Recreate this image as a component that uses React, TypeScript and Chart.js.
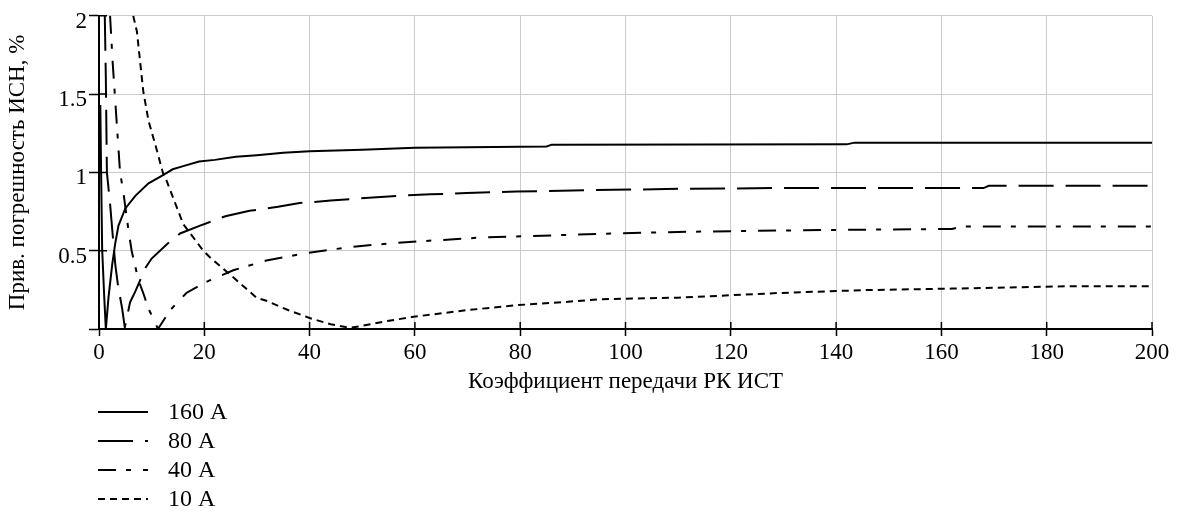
import React, { useEffect, useRef } from "react";
import { Chart, registerables } from "chart.js";

Chart.register(...registerables);

const xTickValues = [0, 20, 40, 60, 80, 100, 120, 140, 160, 180, 200];
const yTickValues = [0, 0.5, 1, 1.5, 2];
const seriesLabels = ["160 A", "80 A", "40 A", "10 A"];
const xAxisTitle = "Коэффициент передачи РК ИСТ";
const yAxisTitle = "Прив. погрешность ИСН, %";

const x160 = [0.25, 0.4, 0.6, 1.0, 1.3, 1.8, 2.5, 3.1, 3.7, 5, 6.9, 9.4, 12, 14, 16, 19, 22, 26, 30, 35, 40, 50, 60, 70, 80, 85, 86, 142, 143.5, 200];
const y160 = [1.43, 1.0, 0.51, 0.2, 0.0, 0.2, 0.41, 0.55, 0.66, 0.77, 0.85, 0.93, 0.98, 1.02, 1.04, 1.07, 1.08, 1.1, 1.11, 1.125, 1.135, 1.145, 1.157, 1.16, 1.164, 1.165, 1.177, 1.179, 1.19, 1.19];

const x80 = [1.1, 1.3, 1.5, 2.1, 2.6, 3.1, 3.6, 4.4, 4.9, 5.9, 6.9, 8.8, 10, 13.2, 15.4, 19.2, 24, 28.6, 34, 38.1, 44, 49.5, 57.1, 63, 69.8, 79.3, 94.4, 110, 129, 168, 169, 200];
const y80 = [2.0, 1.6, 1.0, 0.8, 0.6, 0.41, 0.28, 0.13, 0.01, 0.17, 0.24, 0.39, 0.45, 0.55, 0.61, 0.66, 0.72, 0.755, 0.78, 0.804, 0.82, 0.834, 0.851, 0.86, 0.868, 0.878, 0.887, 0.895, 0.9, 0.9, 0.914, 0.914];

const x40 = [2.1, 2.6, 3.2, 4.0, 4.6, 5.6, 6.2, 7.5, 8.4, 9.4, 10.4, 11.2, 13.5, 16.6, 19.2, 21, 25.5, 31.8, 39.4, 47.6, 55.8, 63.4, 73.6, 82.4, 94.4, 110, 129, 162, 164, 200];
const y40 = [2.0, 1.7, 1.4, 1.0, 0.88, 0.63, 0.5, 0.31, 0.23, 0.13, 0.06, 0.0, 0.12, 0.23, 0.28, 0.31, 0.375, 0.438, 0.485, 0.523, 0.548, 0.565, 0.586, 0.594, 0.607, 0.62, 0.629, 0.639, 0.654, 0.654];

const x10 = [6.5, 7.2, 8.4, 9.4, 11, 12.2, 12.8, 16, 19.8, 21, 25.5, 29.9, 31.8, 36, 40, 44, 47.6, 50, 53.9, 59.7, 69.8, 79.3, 88.7, 95, 110, 129.2, 145, 162, 183.6, 200];
const y10 = [2.0, 1.9, 1.52, 1.33, 1.14, 0.99, 0.95, 0.67, 0.5, 0.46, 0.33, 0.2, 0.18, 0.12, 0.07, 0.03, 0.008, 0.02, 0.046, 0.078, 0.12, 0.152, 0.173, 0.19, 0.2, 0.23, 0.248, 0.258, 0.273, 0.273];

const seriesX = [x160, x80, x40, x10];
const seriesY = [y160, y80, y40, y10];
const seriesDash = [[], [35, 12], [18, 10, 5, 12], [7, 5]];

const FONT_FAMILY = '"Times New Roman", "Liberation Serif", serif';

const innerTicks = {
  id: "innerTicks",
  afterDatasetsDraw(chart: any) {
    const { ctx, chartArea, scales } = chart;
    ctx.save();
    ctx.strokeStyle = "#000";
    ctx.lineWidth = 1.5;
    ctx.setLineDash([]);
    ctx.beginPath();
    xTickValues.forEach((v) => {
      const px = scales.x.getPixelForValue(v);
      ctx.moveTo(px, chartArea.bottom);
      ctx.lineTo(px, chartArea.bottom - 7);
    });
    yTickValues.forEach((v) => {
      const py = scales.y.getPixelForValue(v);
      ctx.moveTo(chartArea.left, py);
      ctx.lineTo(chartArea.left + 8, py);
    });
    ctx.stroke();
    ctx.restore();
  },
};

const lineLegend = {
  id: "lineLegend",
  afterDraw(chart: any) {
    const { ctx } = chart;
    ctx.save();
    chart.data.datasets.forEach((ds: any, i: number) => {
      const cy = 412 + i * 29;
      ctx.strokeStyle = "#000";
      ctx.lineWidth = 2;
      ctx.setLineDash(ds.borderDash || []);
      ctx.beginPath();
      ctx.moveTo(98, cy);
      ctx.lineTo(148, cy);
      ctx.stroke();
      ctx.setLineDash([]);
      ctx.fillStyle = "#000";
      ctx.font = `24px ${FONT_FAMILY}`;
      ctx.textAlign = "left";
      ctx.textBaseline = "middle";
      ctx.fillText(ds.label, 168, cy + 1);
    });
    ctx.restore();
  },
};

export default function App() {
  const canvasRef = useRef<HTMLCanvasElement | null>(null);

  useEffect(() => {
    document.body.style.margin = "0";
    const canvas = canvasRef.current;
    if (!canvas) return;
    const font = { family: FONT_FAMILY, size: 23 };
    const chart = new Chart(canvas, {
      type: "line",
      data: {
        datasets: seriesLabels.map((label, i) => ({
          label,
          data: seriesX[i].map((x, j) => ({ x, y: seriesY[i][j] })),
          borderColor: "#000",
          backgroundColor: "#000",
          borderWidth: 2,
          borderDash: seriesDash[i],
          pointRadius: 0,
          tension: 0,
          fill: false,
        })),
      },
      options: {
        animation: false,
        responsive: false,
        maintainAspectRatio: false,
        layout: { padding: { left: 0, top: 14, right: 31, bottom: 0 } },
        plugins: { legend: { display: false }, tooltip: { enabled: false } },
        scales: {
          x: {
            type: "linear",
            min: 0,
            max: 200,
            afterBuildTicks: (s: any) => {
              s.ticks = xTickValues.map((value) => ({ value }));
            },
            afterFit: (s: any) => {
              s.height = 185;
            },
            ticks: { font, color: "#000", padding: 3, maxRotation: 0, autoSkip: false },
            grid: { color: "#cccccc", lineWidth: 1, tickColor: "#000", tickLength: 7, tickWidth: 1.5 },
            border: { color: "#000", width: 2 },
            title: {
              display: true,
              text: xAxisTitle,
              font,
              color: "#000",
              padding: { top: 0, bottom: 118 },
            },
          },
          y: {
            type: "linear",
            min: 0,
            max: 2,
            afterBuildTicks: (s: any) => {
              s.ticks = yTickValues.map((value) => ({ value }));
            },
            afterFit: (s: any) => {
              s.width = 99;
            },
            ticks: {
              font,
              color: "#000",
              padding: 2,
              labelOffset: 6,
              callback: (v: any) => (v === 0 ? "" : String(v)),
            },
            grid: { color: "#cccccc", lineWidth: 1, tickColor: "#000", tickLength: 10, tickWidth: 1.5 },
            border: { color: "#000", width: 2 },
            title: {
              display: true,
              text: yAxisTitle,
              font,
              color: "#000",
              padding: { top: 4, bottom: 0 },
            },
          },
        },
      },
      plugins: [innerTicks, lineLegend],
    } as any);
    return () => chart.destroy();
  }, []);

  return (
    <div style={{ width: 1183, height: 514 }}>
      <canvas ref={canvasRef} width={1183} height={514} style={{ display: "block", width: 1183, height: 514 }} />
    </div>
  );
}
